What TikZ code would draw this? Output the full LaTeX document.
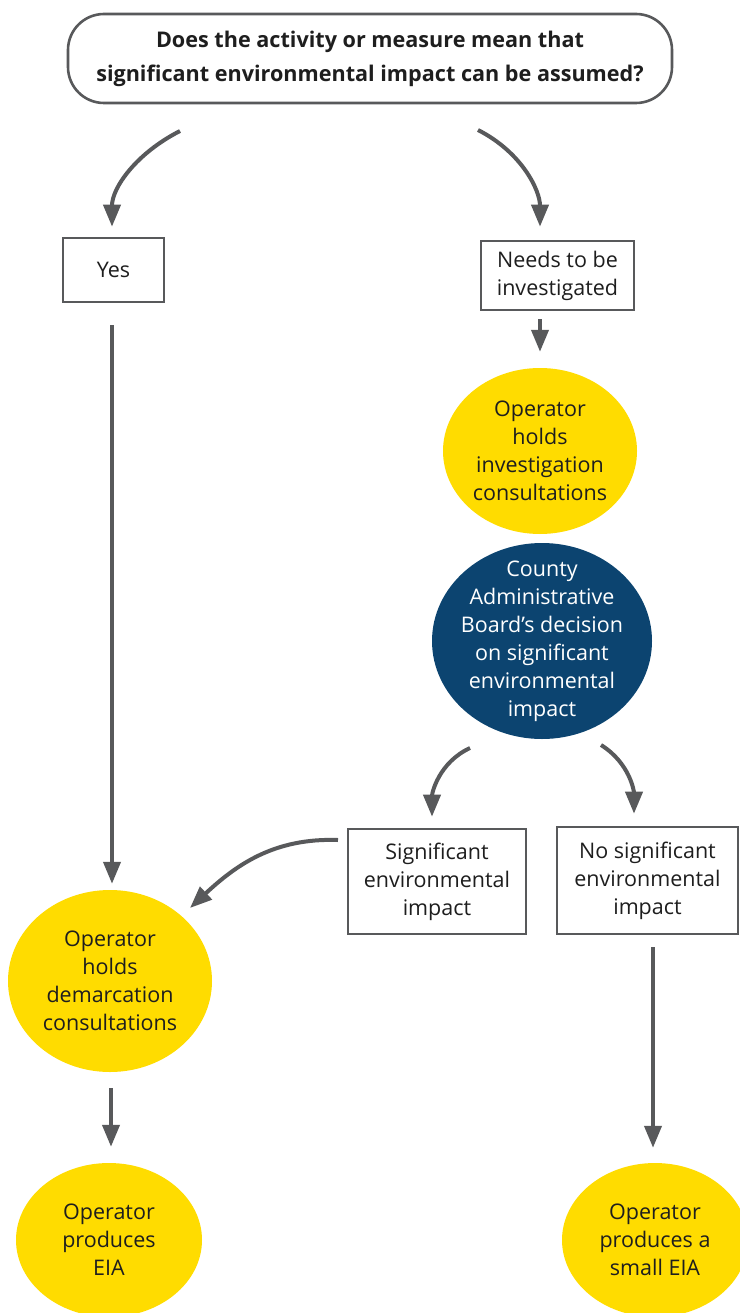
\documentclass[tikz,border=0pt]{standalone}
\usepackage{fontspec}
\setmainfont{Open Sans}
\usetikzlibrary{arrows.meta,shapes.geometric,calc}
\definecolor{linegray}{HTML}{58595B}
\definecolor{eyellow}{HTML}{FFDC00}
\definecolor{eblue}{HTML}{0C4470}
\definecolor{txt}{HTML}{1E1E1E}
\begin{document}
\begin{tikzpicture}[x=1pt,y=1pt,
  txtstyle/.style={font=\fontsize{21.5}{28}\selectfont, text=txt, align=center},
  boxnode/.style={txtstyle, draw=linegray, line width=2.6pt, fill=white, inner sep=0pt},
  yellownode/.style={txtstyle, ellipse, fill=eyellow, inner sep=-40pt},
  bluenode/.style={txtstyle, ellipse, fill=eblue, text=white, inner sep=-40pt},
  arr/.style={draw=linegray, line width=4pt, -{Triangle[length=22pt,width=17pt]}}
]
\useasboundingbox (0,0) rectangle (739,-1313);

% nodes
\node[draw=linegray, line width=2.6pt, rounded corners=36pt, minimum width=604pt, minimum height=89pt,
      font=\bfseries\fontsize{21.6}{34}\selectfont, text=txt, align=center]
  (title) at (370,-58.5) {Does the activity or measure mean that\\significant environmental impact can be assumed?};

\node[boxnode, minimum width=101pt, minimum height=64pt] (yes) at (113.5,-270) {Yes};
\node[boxnode, minimum width=153pt, minimum height=69pt] (needs) at (557.5,-275.5) {Needs to be\\investigated};

\node[yellownode, minimum width=194pt, minimum height=166pt] (invest) at (540,-451) {Operator\\holds\\investigation\\consultations};
\node[bluenode, minimum width=220pt, minimum height=196pt] (county) at (542,-641) {County\\Administrative\\Board’s decision\\on significant\\environmental\\impact};

\node[boxnode, minimum width=178pt, minimum height=105pt] (sig) at (437,-881.5) {Significant\\environmental\\impact};
\node[boxnode, minimum width=181pt, minimum height=107pt] (nosig) at (647.5,-880.5) {No significant\\environmental\\impact};

\node[yellownode, minimum width=204pt, minimum height=182pt] (demarc) at (110,-981) {Operator\\holds\\demarcation\\consultations};

\node[yellownode, minimum width=186pt, minimum height=154pt] (eia) at (109,-1240) {Operator\\produces\\EIA};
\node[yellownode, minimum width=186pt, minimum height=154pt] (smalleia) at (655,-1240) {Operator\\produces a\\small EIA};

% free ends of connectors
\coordinate (t1) at (180,-131);
\coordinate (t2) at (478,-130);
\coordinate (c1) at (470,-748);
\coordinate (c2) at (601,-745);
\coordinate (s1) at (338,-840);
\coordinate (d1) at (190,-908);

% connectors
\draw[arr, shorten >=10pt] (t1) to[out=207, in=90] (yes.north -| 112,0);
\draw[arr, shorten >=13pt] (t2) to[out=-27, in=90] (needs.north -| 540,0);
\draw[arr, shorten <=8pt, shorten >=16pt] (needs.south -| 540,0) -- (invest.north -| 540,0);
\draw[arr, shorten <=22pt, shorten >=6pt] (yes.south -| 112,0) -- (demarc.north -| 112,0);
\draw[arr, shorten >=11pt] (c1) to[out=205, in=90] (sig.north -| 432,0);
\draw[arr, shorten >=12pt] (c2) to[out=-32, in=90] (nosig.north -| 634,0);
\draw[arr] (s1) to[out=178, in=43] (d1);
\draw[arr, shorten <=16pt, shorten >=16pt] (demarc.south -| 111,0) -- (eia.north -| 111,0);
\draw[arr, shorten <=12pt, shorten >=15pt] (nosig.south -| 653,0) -- (smalleia.north -| 653,0);
\end{tikzpicture}
\end{document}
